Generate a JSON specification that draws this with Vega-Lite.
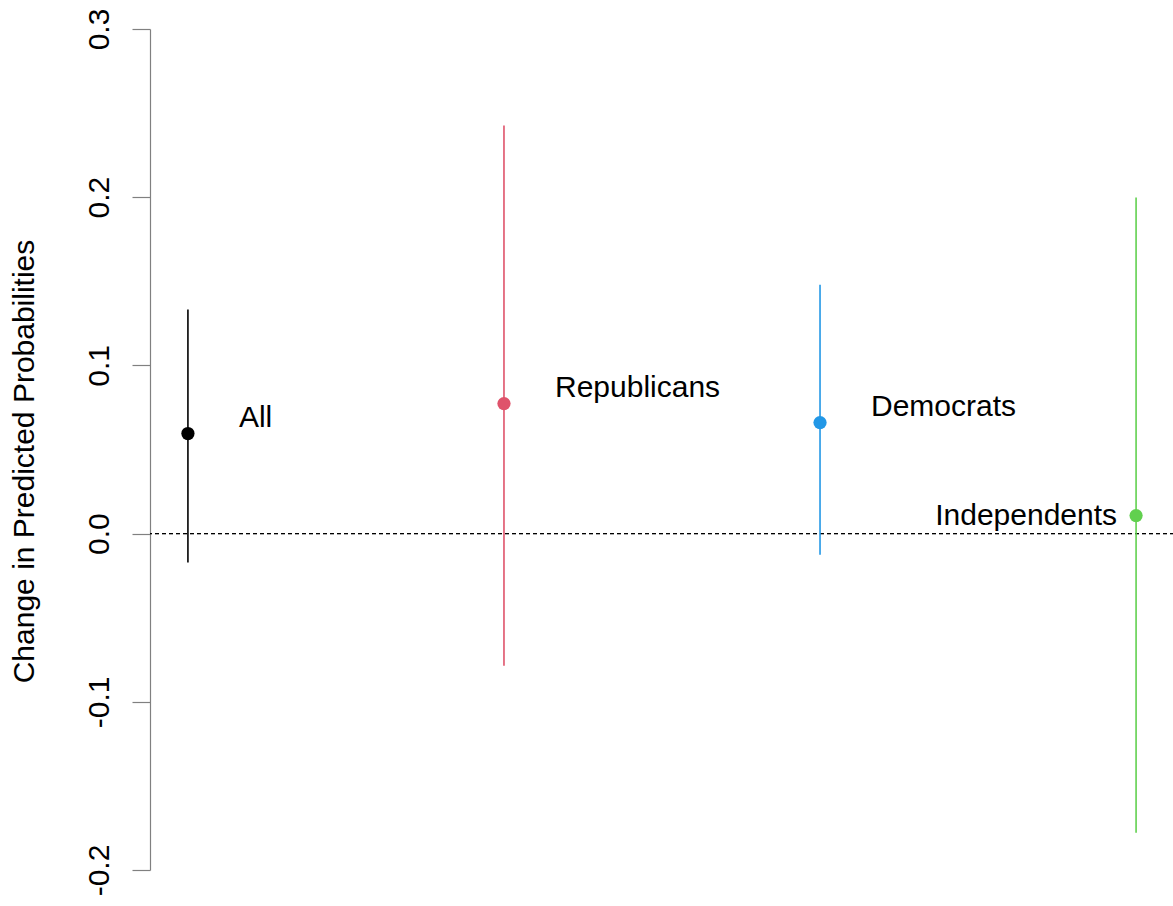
{
  "$schema": "https://vega.github.io/schema/vega-lite/v6.json",
  "autosize": {"type": "none"},
  "padding": {"left": 150, "top": 29, "right": 0, "bottom": 36},
  "width": 1024,
  "height": 841,
  "background": "white",
  "config": {
    "view": {"stroke": null},
    "font": "Liberation Sans"
  },
  "data": {
    "values": [
      {"group": "All", "pos": 1, "est": 0.0595, "lo": -0.0172, "hi": 0.1332},
      {"group": "Republicans", "pos": 2, "est": 0.0773, "lo": -0.0785, "hi": 0.2426},
      {"group": "Democrats", "pos": 3, "est": 0.066, "lo": -0.0125, "hi": 0.148},
      {"group": "Independents", "pos": 4, "est": 0.0107, "lo": -0.1778, "hi": 0.1998}
    ]
  },
  "encoding": {
    "x": {"field": "pos", "type": "quantitative", "scale": {"domain": [0.88, 4.12], "nice": false, "zero": false}, "axis": null},
    "color": {"field": "group", "type": "nominal", "scale": {"domain": ["All", "Republicans", "Democrats", "Independents"], "range": ["#000000", "#DF536B", "#2297E6", "#61D04F"]}, "legend": null}
  },
  "layer": [
    {
      "mark": {"type": "rule", "color": "black", "strokeWidth": 1, "strokeDash": [4, 3]},
      "encoding": {"y": {"datum": 0, "type": "quantitative"}, "x": null, "color": null}
    },
    {
      "mark": {"type": "rule", "strokeWidth": 1.6},
      "encoding": {
        "y": {"field": "lo", "type": "quantitative", "scale": {"domain": [-0.2, 0.3], "nice": false, "zero": false},
          "title": "Change in Predicted Probabilities",
          "axis": {
            "values": [-0.2, -0.1, 0, 0.1, 0.2, 0.3],
            "labelExpr": "replace(format(datum.value, '.1f'), '\u2212', '-')",
            "grid": false,
            "domainColor": "#808080",
            "domainWidth": 1.2,
            "tickColor": "#808080",
            "tickWidth": 1.2,
            "tickSize": 18,
            "labelFontSize": 30,
            "labelColor": "black",
            "labelAngle": -90,
            "labelAlign": "center",
            "labelBaseline": "alphabetic",
            "labelPadding": 24,
            "labelFont": "Liberation Sans",
            "titleFont": "Liberation Sans",
            "titleFontSize": 30,
            "titleFontWeight": "normal",
            "titleColor": "black",
            "titleAngle": -90,
            "titleAlign": "center",
            "titleBaseline": "middle",
            "titleX": -126,
            "titleY": 432
          }
        },
        "y2": {"field": "hi"}
      }
    },
    {
      "mark": {"type": "point", "filled": true, "opacity": 1, "size": 175, "shape": "circle"},
      "encoding": {"y": {"field": "est", "type": "quantitative"}}
    },
    {
      "transform": [{"filter": "datum.group !== 'Independents'"}],
      "mark": {"type": "text", "align": "left", "baseline": "middle", "dx": 51, "dy": -16, "fontSize": 30, "font": "Liberation Sans", "color": "black"},
      "encoding": {"y": {"field": "est", "type": "quantitative"}, "text": {"field": "group"}, "color": null}
    },
    {
      "transform": [{"filter": "datum.group === 'Independents'"}],
      "mark": {"type": "text", "align": "right", "baseline": "middle", "dx": -19, "dy": 0, "fontSize": 30, "font": "Liberation Sans", "color": "black"},
      "encoding": {"y": {"field": "est", "type": "quantitative"}, "text": {"field": "group"}, "color": null}
    }
  ]
}
